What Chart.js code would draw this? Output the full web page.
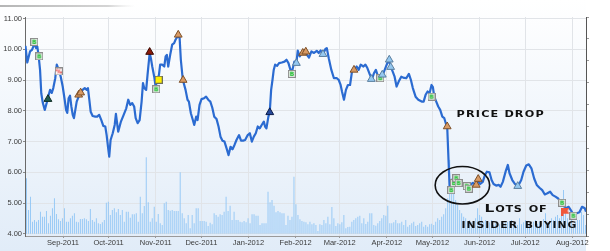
<!DOCTYPE html>
<html>
<head>
<meta charset="utf-8">
<script src="https://cdn.jsdelivr.net/npm/chart.js@4.4.1/dist/chart.umd.min.js"></script>
<style>
html, body { margin: 0; padding: 0; background: #fff; }
#wrap { width: 610px; height: 251px; }
</style>
</head>
<body>
<div id="wrap"><canvas id="myChart" width="610" height="251"></canvas></div>
<script>
// x values are days counted from 1 Aug 2011
var monthDays = [31, 61, 92, 122, 153, 184, 213, 244, 274, 305, 335, 366]
var monthLabels = ['Sep-2011', 'Oct-2011', 'Nov-2011', 'Dec-2011', 'Jan-2012', 'Feb-2012',
  'Mar-2012', 'Apr-2012', 'May-2012', 'Jun-2012', 'Jul-2012', 'Aug-2012']
var priceTicks = [4, 5, 6, 7, 8, 9, 10, 11]

var priceDays = [6.3, 7.5, 9.3, 10.6, 11.5, 12.4, 13.3, 14.1, 15.0, 15.9, 16.7, 17.7, 19.0, 20.3, 21.6, 22.5,
  23.6, 24.6, 25.9, 26.9, 28.2, 29.5, 30.8, 32.1, 33.0, 33.8, 34.7, 35.6, 36.5, 37.4, 38.2, 39.1, 40.0,
  41.3, 42.6, 43.9, 45.3, 46.6, 47.4, 48.3, 49.2, 50.5, 52.2, 53.5, 54.8, 56.2, 57.5, 58.8, 59.7, 60.6,
  61.4, 62.3, 63.7, 65.0, 65.8, 67.3, 69.1, 70.9, 72.6, 73.9, 75.2, 76.5, 77.8, 78.8, 80.1, 81.4, 82.7,
  83.6, 84.4, 85.7, 86.6, 88.0, 88.8, 89.7, 91.0, 91.9, 93.2, 94.1, 94.9, 96.2, 97.6, 98.5, 99.3, 100.2,
  101.5, 102.8, 104.1, 105.0, 106.4, 107.7, 108.5, 109.8, 111.6, 112.9, 113.8, 115.1, 116.4, 117.3,
  118.6, 119.5, 120.8, 122.1, 123.8, 125.1, 126.5, 127.9, 129.2, 130.5, 132.0, 133.3, 134.6, 135.9,
  137.2, 138.6, 139.9, 141.2, 142.5, 143.8, 145.1, 146.8, 148.1, 149.5, 150.8, 152.5, 153.9, 155.2,
  156.5, 157.8, 159.1, 160.4, 161.7, 163.1, 163.9, 164.8, 166.1, 167.0, 167.9, 168.8, 169.6, 170.5,
  171.8, 173.1, 174.9, 176.7, 178.0, 179.3, 180.6, 181.9, 183.2, 184.5, 185.4, 186.7, 188.0, 189.8,
  191.5, 192.8, 194.4, 196.1, 197.9, 199.2, 200.5, 202.0, 203.6, 204.5, 205.8, 207.5, 209.2, 211.0,
  212.3, 213.6, 214.5, 215.8, 217.1, 218.4, 219.8, 221.1, 222.4, 224.2, 225.5, 226.8, 228.6, 229.9,
  231.2, 232.9, 234.2, 235.5, 236.8, 238.2, 239.9, 241.7, 243.4, 245.2, 246.5, 247.8, 249.1, 250.4,
  251.8, 253.5, 255.4, 256.8, 258.5, 259.8, 261.1, 262.9, 264.7, 266.9, 268.2, 269.5, 270.8, 272.1,
  273.4, 274.3, 275.2, 276.5, 277.8, 279.1, 280.5, 281.8, 283.1, 283.7, 285.3, 287.0, 287.9, 289.7,
  291.4, 293.0, 294.0, 295.8, 297.3, 298.9, 300.6, 302.3, 304.1, 305.4, 307.1, 308.5, 309.8, 311.5,
  312.9, 314.2, 315.9, 317.7, 318.8, 320.3, 322.1, 323.6, 324.7, 326.5, 328.0, 330.1, 332.4, 333.9,
  335.7, 337.4, 339.1, 340.9, 342.6, 344.4, 346.2, 347.9, 349.6, 351.4, 353.1, 354.9, 356.7, 358.4,
  360.2, 361.9, 363.6, 365.4, 366.7, 368.5, 370.7, 372.4, 374.2, 375]
var prices = [10.11, 9.57, 9.93, 9.98, 10.09, 10.18, 10.04, 10.09, 9.77, 9.33, 8.57, 8.26, 8.03, 8.26, 8.52, 8.68,
  8.58, 8.74, 9.06, 9.50, 9.33, 9.11, 8.79, 8.36, 8.03, 7.93, 8.41, 8.49, 8.14, 7.87, 7.76, 8.03, 8.30,
  8.46, 8.59, 8.68, 8.74, 8.68, 8.74, 8.36, 7.97, 7.83, 7.81, 7.81, 7.87, 7.70, 7.51, 7.49, 7.21, 6.83,
  6.51, 7.05, 7.27, 7.54, 7.90, 7.32, 7.65, 7.87, 8.08, 8.36, 8.19, 8.25, 8.14, 7.76, 7.60, 7.70, 8.30,
  8.90, 8.74, 8.68, 9.17, 9.88, 9.71, 9.44, 9.11, 8.79, 9.03, 9.17, 9.50, 9.50, 9.44, 9.77, 9.82, 9.44,
  9.82, 10.15, 10.20, 10.31, 10.42, 10.37, 9.66, 9.01, 8.68, 8.36, 8.30, 7.92, 7.70, 7.54,
  7.81, 7.70, 8.19, 8.38, 8.41, 8.46, 8.36, 8.30, 8.10, 7.81, 7.73, 7.49, 7.16, 7.03,
  7.00, 6.78, 6.56, 6.83, 6.75, 6.89, 7.05, 7.21, 7.03, 7.03, 7.05, 7.21, 7.27, 7.00,
  7.16, 7.27, 7.49, 7.43, 7.54, 7.65, 7.49, 7.43, 7.81, 7.97, 8.68, 9.01, 9.33, 9.50,
  9.46, 9.55, 9.57, 9.60, 9.66, 9.55, 9.33, 9.33, 9.60, 9.55, 9.96, 9.77, 9.88, 9.88,
  9.82, 9.73, 9.93, 9.88, 9.95, 9.88, 9.96, 9.84, 10.01, 10.04, 9.71, 9.33, 9.06, 9.06,
  9.01, 8.84, 8.63, 8.36, 8.68, 8.84, 8.84, 9.28, 9.33, 9.44, 9.33, 9.50, 9.44, 9.50,
  9.39, 9.17, 9.03, 9.22, 9.33, 9.11, 9.09, 9.22, 9.44, 9.66, 9.44, 9.28, 9.11, 8.79,
  8.95, 9.11, 9.07, 9.06, 9.20, 9.01, 8.74, 8.46, 8.36, 8.30, 8.30, 8.52, 8.63, 8.57,
  8.84, 8.77, 8.46, 8.30, 8.14, 8.03, 7.81, 7.76, 7.54, 7.49, 5.50, 5.64, 5.80, 5.64,
  5.69, 5.59, 5.64, 5.55, 5.53, 5.59, 5.66, 5.59, 5.69, 5.62, 5.69, 5.91, 6.02, 6.00,
  5.75, 5.62, 5.57, 5.59, 5.53, 5.69, 6.02, 6.24, 5.97, 5.75, 5.64, 5.53, 5.75, 6.02,
  6.22, 6.26, 6.13, 5.80, 5.59, 5.50, 5.42, 5.28, 5.32, 5.37, 5.26, 5.21, 5.15, 5.02,
  4.94, 4.83, 4.88, 4.74, 4.63, 4.66, 4.70, 4.88, 4.83, 4.72]

// daily volume, thousands of shares, one bar per session
var volumes = [1660, 710, 1110, 360, 410, 360, 410, 660, 510, 510, 680, 310, 540, 760, 1060, 590, 430, 380,
  460, 760, 360, 360, 460, 540, 610, 360, 340, 440, 440, 460, 430, 380, 740, 410, 360, 460, 310, 290, 340,
  410, 930, 960, 560, 710, 760, 640, 740, 560, 710, 360, 660, 660, 480, 580, 580, 610, 360, 1110, 610, 830,
  2290, 940, 360, 460, 810, 360, 590, 310, 260, 910, 960, 710, 690, 710, 680, 680, 680, 1840, 610, 460, 310,
  560, 160, 560, 310, 760,
  760, 380, 380, 380, 360, 230, 330, 280, 610, 560, 510, 580, 560, 660, 1110, 680, 840, 410, 660, 410, 410,
  360, 340, 380, 340, 460, 310, 580, 580, 540, 540, 260, 310, 310, 310, 1260, 940, 1010, 840, 640, 680, 640,
  610, 610, 260, 540, 410, 510, 1710, 880, 560, 430, 380, 360, 340, 280, 360, 280, 310, 260, 80, 280, 260,
  410, 310, 510, 280, 800, 460, 230, 310, 280, 340, 560, 160, 200, 210, 360, 410, 460, 510, 540, 310, 460,
  290, 360, 610, 610, 260, 240, 310, 380, 460, 560, 540, 840, 310, 310, 340, 410, 310,
  310, 360, 260, 410, 210, 260, 310, 360, 230, 260, 310, 360, 210, 260, 210, 280, 300, 260, 360, 460, 410,
  510, 580, 760, 1060, 2210, 1660, 1260, 1010, 860, 710, 610, 510, 460, 360, 410, 340, 380, 460, 760, 560,
  510, 360, 410, 310, 340, 410, 260, 310, 360, 280, 360, 310, 340, 360, 380, 410, 310, 360, 260, 460, 280,
  340, 410, 360, 260, 240, 360, 410, 300, 360, 260, 440, 610, 360, 380, 460, 410, 510, 560, 460, 660, 1310,
  660, 460, 360, 410, 260, 360, 410, 410, 660, 560, 260]

// chart events
var buyDays = [12.1, 15.4, 92.3, 181.5, 239.7, 273.4, 286.4, 288.1, 289.7, 291.2, 296.6, 297.9, 359.3, 366.7]
var buyPrices = [10.24, 9.77, 8.70, 9.20, 9.06, 8.46, 5.42, 5.65, 5.81, 5.65, 5.55, 5.47, 5.01, 4.59]
var pctDays = [28.2]
var pctPrices = [9.28]
var yellowDays = [93.9]
var yellowPrices = [9.01]
var flagDays = [361.5]
var flagPrices = [4.72]
var tanDays = [41.3, 42.6, 106.8, 110.0, 188.7, 190.7, 222.4, 283.7, 302.8, 304.1]
var tanPrices = [8.52, 8.59, 10.47, 9.00, 9.88, 9.92, 9.33, 7.49, 5.59, 5.78]
var redDays = [88.0]
var redPrices = [9.91]
var greenDays = [21.1]
var greenPrices = [8.38]
var navyDays = [167.0]
var navyPrices = [7.95]
var skyDays = [184.5, 202.0, 233.8, 241.0, 245.6, 246.5, 330.1]
var skyPrices = [9.55, 9.84, 9.03, 9.17, 9.66, 9.42, 5.55]

function pts(xs, ys) {
  return xs.map(function(x, i) { return { x: x, y: ys[i] } })
}

function icon(w, h, paint) {
  var c = document.createElement('canvas')
  c.width = w
  c.height = h
  paint(c.getContext('2d'))
  return c
}

var buyIcon = icon(8, 8, function(g) {
  g.fillStyle = '#8c8c8c'; g.fillRect(0, 0, 8, 8)
  g.fillStyle = '#e4e8e4'; g.fillRect(1, 1, 6, 6)
  g.fillStyle = '#1fbf2f'; g.font = 'bold 6px "DejaVu Sans"'
  g.textAlign = 'center'; g.textBaseline = 'middle'
  g.fillText('B', 4, 4.5)
})
var pctIcon = icon(8, 8, function(g) {
  g.fillStyle = '#8c8c8c'; g.fillRect(0, 0, 8, 8)
  g.fillStyle = '#ffffff'; g.fillRect(1, 1, 6, 6)
  g.fillStyle = '#e02020'; g.font = 'bold 6px "DejaVu Sans"'
  g.textAlign = 'center'; g.textBaseline = 'middle'
  g.fillText('%', 4, 4.5)
})
var yellowIcon = icon(8, 8, function(g) {
  g.fillStyle = '#6f6f5a'; g.fillRect(0, 0, 8, 8)
  g.fillStyle = '#fff000'; g.fillRect(1, 1, 6, 6)
})
var flagIcon = icon(8, 8, function(g) {
  g.fillStyle = '#f0583a'
  g.beginPath(); g.moveTo(0, 0); g.lineTo(8, 0); g.lineTo(6, 3); g.lineTo(8, 6); g.lineTo(2, 6); g.lineTo(2, 8); g.lineTo(0, 8)
  g.closePath(); g.fill()
})

function marks(xs, ys, style, fill, edge, order) {
  return {
    type: 'line', showLine: false, data: pts(xs, ys), xAxisID: 'x', yAxisID: 'y', order: order,
    pointStyle: style, pointRadius: 4.5, pointBackgroundColor: fill, pointBorderColor: edge, pointBorderWidth: 1
  }
}

var backdrop = {
  id: 'backdrop',
  beforeDraw: function(chart) {
    var ctx = chart.ctx, a = chart.chartArea
    ctx.save()
    var g = ctx.createLinearGradient(0, 0, 0, chart.height)
    g.addColorStop(0, '#ffffff')
    g.addColorStop(1, '#e1ecf8')
    ctx.fillStyle = g
    ctx.fillRect(0, 0, a.right, chart.height)
    var r = ctx.createLinearGradient(0, 0, 135, 0)
    r.addColorStop(0, 'rgba(150,150,150,0.7)')
    r.addColorStop(0.8, 'rgba(170,170,170,0.5)')
    r.addColorStop(1, 'rgba(210,210,210,0)')
    ctx.fillStyle = r
    ctx.fillRect(0, 5, 135, 2)
    ctx.restore()
  }
}

// draws text stretched sideways and spread to fill the given width
function spaced(ctx, text, px, py, width, font, caps, stretch) {
  ctx.save()
  ctx.font = font
  ctx.fontVariantCaps = caps
  ctx.letterSpacing = '0px'
  var w = ctx.measureText(text).width
  var gap = (width / stretch - w) / (text.length - 1)
  ctx.letterSpacing = Math.max(0, gap) + 'px'
  ctx.translate(px, py)
  ctx.scale(stretch, 1)
  ctx.fillText(text, 0, 0)
  ctx.restore()
}

var notes = {
  id: 'notes',
  afterDatasetsDraw: function(chart) {
    var ctx = chart.ctx, x = chart.scales.x, y = chart.scales.y
    ctx.save()
    var cx = x.getPixelForValue(293.7), cy = y.getPixelForValue(5.58)
    var rx = x.getPixelForValue(293.7 + 17.9) - cx
    var ry = cy - y.getPixelForValue(5.58 + 0.61)
    ctx.beginPath()
    ctx.ellipse(cx, cy, rx, ry, 0, 0, Math.PI * 2)
    ctx.lineWidth = 1.6
    ctx.strokeStyle = '#111'
    ctx.stroke()
    ctx.fillStyle = '#111'
    ctx.textAlign = 'left'
    ctx.textBaseline = 'alphabetic'
    spaced(ctx, 'PRICE DROP', x.getPixelForValue(289.9), y.getPixelForValue(7.81), 87, 'bold 9px "DejaVu Sans"', 'normal', 1.25)
    spaced(ctx, 'Lots of', x.getPixelForValue(308.3), y.getPixelForValue(4.70), 62, 'bold 11px "DejaVu Sans"', 'small-caps', 1.4)
    spaced(ctx, 'insider buying', x.getPixelForValue(293.1), y.getPixelForValue(4.18), 115, 'bold 12px "DejaVu Sans"', 'small-caps', 1.35)
    ctx.restore()
  }
}

var tickFont = { family: 'Liberation Sans', size: 7.5 }

var chart = new Chart('myChart', {
  type: 'line',
  data: {
    datasets: [
      marks(buyDays, buyPrices, buyIcon, '#fff', '#888', 1),
      marks(pctDays, pctPrices, pctIcon, '#fff', '#888', 1),
      marks(yellowDays, yellowPrices, yellowIcon, '#fff', '#888', 1),
      marks(flagDays, flagPrices, flagIcon, '#fff', '#888', 1),
      marks(tanDays, tanPrices, 'triangle', '#d89a64', '#7e5028', 0),
      marks(redDays, redPrices, 'triangle', '#8b1c0c', '#3a0800', 0),
      marks(greenDays, greenPrices, 'triangle', '#1e5b4e', '#0c2a22', 0),
      marks(navyDays, navyPrices, 'triangle', '#274a9a', '#0c1c4a', 0),
      marks(skyDays, skyPrices, 'triangle', '#94c8f0', '#5b7f9f', 0),
      {
        type: 'line', data: pts(priceDays, prices), xAxisID: 'x', yAxisID: 'y', order: 2,
        borderColor: '#2b6bd1', borderWidth: 2.2, pointRadius: 0, tension: 0, borderJoinStyle: 'round'
      },
      {
        type: 'bar', data: volumes, xAxisID: 'xb', yAxisID: 'y2', order: 3,
        backgroundColor: '#8fc5f5', barPercentage: 1, categoryPercentage: 0.9
      }
    ]
  },
  options: {
    responsive: false,
    animation: false,
    events: [],
    layout: { padding: { top: 17, left: 0, right: 0, bottom: 0 } },
    plugins: { legend: { display: false }, tooltip: { enabled: false } },
    scales: {
      x: {
        type: 'linear', position: 'bottom', min: 6, max: 375,
        afterBuildTicks: function(s) { s.ticks = monthDays.map(function(d) { return { value: d } }) },
        afterFit: function(s) { s.height = 15 },
        ticks: {
          callback: function(v) { return monthLabels[monthDays.indexOf(v)] },
          font: tickFont, color: '#3a3a3a', padding: 0, maxRotation: 0, autoSkip: false
        },
        grid: { color: '#e1e4e8', tickLength: 2, tickColor: '#999' },
        border: { color: '#9a9a9a' }
      },
      xb: {
        type: 'category', labels: volumes.map(function(v, i) { return i }), display: false, offset: true
      },
      y: {
        position: 'left', min: 3.93, max: 11.05,
        afterBuildTicks: function(s) { s.ticks = priceTicks.map(function(v) { return { value: v } }) },
        afterFit: function(s) { s.width = 25 },
        ticks: {
          callback: function(v) { return v.toFixed(2) },
          font: tickFont, color: '#3a3a3a', padding: 1
        },
        grid: { color: '#e1e4e8', tickLength: 2, tickColor: '#888' },
        border: { color: '#6a6a6a' }
      },
      y2: {
        position: 'right', min: -70, max: 6500,
        afterFit: function(s) { s.width = 24 },
        ticks: { display: false, stepSize: 650 },
        grid: { drawOnChartArea: false, tickLength: 3, color: '#999' },
        border: { color: '#555' }
      }
    }
  },
  plugins: [backdrop, notes]
})
</script>
</body>
</html>
